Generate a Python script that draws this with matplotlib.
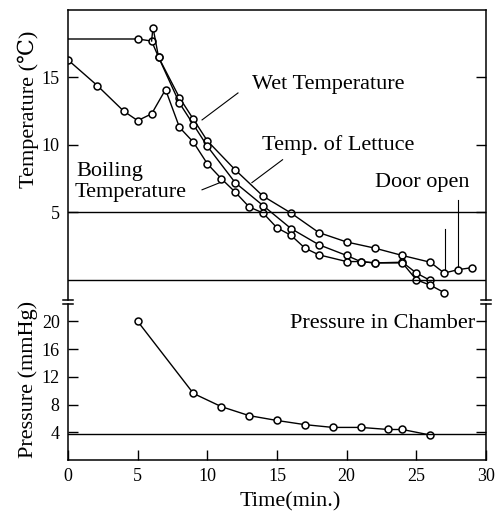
"""
Vacuum cooling of lettuce: temperatures and chamber pressure vs time.
"""

import matplotlib
matplotlib.use('Agg')
import matplotlib.pyplot as plt

plt.rcParams['font.family'] = ['Liberation Serif', 'DejaVu Serif']

# Wet temperature (top curve), first point is the start of the flat line
wet_t = [0, 5, 6, 6.5, 8, 9, 10, 12, 14, 16, 18, 20, 22, 24, 26, 27, 28, 29]
wet_v = [17.85, 17.85, 17.7, 16.5, 13.5, 11.9, 10.3, 8.15, 6.2, 4.95,
         3.5, 2.8, 2.35, 1.8, 1.3, 0.5, 0.75, 0.9]

# Temp. of lettuce (middle curve)
let_t = [6.1, 6.5, 8, 9, 10, 12, 14, 16, 18, 20, 21, 22, 24, 25, 26]
let_v = [18.7, 16.5, 13.1, 11.5, 9.9, 7.2, 5.5, 3.8, 2.6, 1.8, 1.35,
         1.25, 1.3, 0.5, -0.05]

# Boiling temperature (lowest curve)
boil_t = [0, 2.1, 4, 5, 6, 7, 8, 9, 10, 11, 12, 13, 14, 15, 16, 17, 18,
          20, 21, 22, 24, 25, 26, 27]
boil_v = [16.3, 14.4, 12.5, 11.8, 12.3, 14.1, 11.3, 10.2, 8.6, 7.5, 6.5,
          5.4, 4.95, 3.85, 3.3, 2.35, 1.85, 1.35, 1.35, 1.25, 1.25, 0.0,
          -0.4, -0.95]

# Pressure in chamber (mmHg)
pres_t = [5, 9, 11, 13, 15, 17, 19, 21, 23, 24, 26]
pres_v = [20.0, 9.6, 7.7, 6.4, 5.7, 5.1, 4.7, 4.7, 4.4, 4.4, 3.6]

W, H = 501, 514
fig = plt.figure(figsize=(W / 100, H / 100), dpi=100)
fig.patch.set_facecolor('white')

x0, x1 = 68, 486
ax_t = fig.add_axes([x0 / W, 1 - 300 / H, (x1 - x0) / W, 290 / H])
ax_p = fig.add_axes([x0 / W, 1 - 460 / H, (x1 - x0) / W, 156 / H])

LW = 1.0
mk = dict(marker='o', markersize=5, markerfacecolor='white',
          markeredgecolor='black', markeredgewidth=1.1, color='black',
          linewidth=LW)

# ---- temperature panel
ax_t.plot(wet_t, wet_v, markevery=list(range(1, len(wet_t))), **mk)
ax_t.plot([6.0, 6.1], [17.7, 18.7], color='black', linewidth=LW)
ax_t.plot(let_t, let_v, **mk)
ax_t.plot(boil_t, boil_v, **mk)
ax_t.axhline(5, color='black', linewidth=LW)
ax_t.axhline(0, color='black', linewidth=LW)

ax_t.set_xlim(0, 30)
ax_t.set_ylim(-1.5, 20)
ax_t.spines['bottom'].set_visible(False)
ax_t.set_xticks([])
ax_t.set_yticks([5, 10, 15])
ax_t.tick_params(axis='y', direction='in', length=7, width=1,
                 right=True, labelsize=13, pad=6)

fs = 16
ax_t.text(13.2, 14.45, 'Wet Temperature', fontsize=fs, va='center')
ax_t.text(13.9, 10.0, 'Temp. of Lettuce', fontsize=fs, va='center')
ax_t.text(0.6, 8.0, 'Boiling', fontsize=fs, va='center')
ax_t.text(0.5, 6.45, 'Temperature', fontsize=fs, va='center')
ax_t.text(22.0, 7.2, 'Door open', fontsize=fs, va='center')

# leader lines
ax_t.plot([12.2, 9.62], [13.85, 11.85], color='black', linewidth=0.8)
ax_t.plot([15.4, 13.2], [8.9, 7.2], color='black', linewidth=0.8)
ax_t.plot([9.62, 10.9], [6.67, 7.2], color='black', linewidth=0.8)
ax_t.plot([27.06, 27.06], [3.8, 0.75], color='black', linewidth=0.8)
ax_t.plot([28.0, 28.0], [5.9, 0.95], color='black', linewidth=0.8)

# ---- pressure panel
ax_p.plot(pres_t, pres_v, **mk)
ax_p.axhline(3.8, color='black', linewidth=LW)
ax_p.set_xlim(0, 30)
ax_p.set_ylim(0, 22.5)
ax_p.spines['top'].set_visible(False)
ax_p.set_yticks([4, 8, 12, 16, 20])
ax_p.set_xticks([0, 5, 10, 15, 20, 25, 30])
ax_p.tick_params(axis='both', direction='in', length=7, width=1,
                 right=True, labelsize=13, pad=6)
ax_p.text(15.9, 19.7, 'Pressure in Chamber', fontsize=fs, va='center')

for ax in (ax_t, ax_p):
    for s in ax.spines.values():
        s.set_linewidth(1.1)

# axis break marks
for xa in (0, 1):
    for ax, ya in ((ax_t, 0), (ax_p, 1)):
        ax.plot([xa - 0.013, xa + 0.013], [ya, ya], color='black',
                linewidth=1.1, transform=ax.transAxes, clip_on=False)

fig.text(28 / W, 1 - 109 / H, 'Temperature (\u2103)', rotation=90,
         ha='center', va='center', fontsize=16)
fig.text(28 / W, 1 - 379 / H, 'Pressure (mmHg)', rotation=90,
         ha='center', va='center', fontsize=16)
fig.text(290 / W, 1 - 502 / H, 'Time(min.)', ha='center', va='center',
         fontsize=16)

fig.savefig('out.png', dpi=100)
